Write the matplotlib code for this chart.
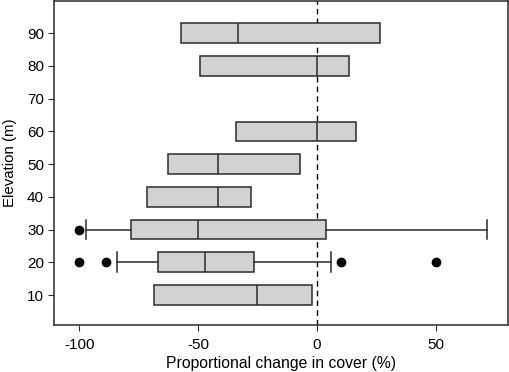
import matplotlib
matplotlib.use("Agg")
import matplotlib.pyplot as plt

plt.rcParams['font.family'] = ['Liberation Sans', 'DejaVu Sans']

# Elevation bands (m) and box statistics
elevation = [10, 20, 30, 40, 50, 60, 80, 90]
q1 = [-68.7, -66.8, -78.3, -71.5, -62.8, -34.0, -49.0, -57.4]
med = [-25.4, -47.1, -50.0, -41.5, -41.8, 0.0, 0.0, -33.4]
q3 = [-2.2, -26.6, 3.8, -27.8, -7.2, 16.5, 13.5, 26.5]
whislo = [-68.7, -84.0, -97.3, -71.5, -62.8, -34.0, -49.0, -57.4]
whishi = [-2.2, 6.0, 71.7, -27.8, -7.2, 16.5, 13.5, 26.5]
fliers = [[], [-100, -89, 10, 50], [-100], [], [], [], [], []]

stats = []
for i in range(len(elevation)):
    stats.append({
        'q1': q1[i], 'med': med[i], 'q3': q3[i],
        'whislo': whislo[i], 'whishi': whishi[i], 'fliers': fliers[i],
    })

fig = plt.figure(figsize=(5.09, 3.72), dpi=100)
ax = fig.add_axes([0.107, 0.126, 0.891, 0.871])

edge = '#2b2b2b'
has_whisk = [lo < a or hi > b for lo, a, hi, b in zip(whislo, q1, whishi, q3)]
bp = ax.bxp(stats, positions=elevation, widths=6, vert=False, patch_artist=True,
            showfliers=True, capwidths=[6 if h else 0 for h in has_whisk],
            boxprops=dict(facecolor='#d2d2d2', edgecolor=edge, linewidth=1.1),
            medianprops=dict(color=edge, linewidth=1.1),
            whiskerprops=dict(color=edge, linewidth=1.1),
            capprops=dict(color=edge, linewidth=1.1),
            flierprops=dict(marker='o', markerfacecolor='black', markeredgecolor='black',
                            markersize=6))

ax.axvline(0, color='black', linestyle=(0, (4, 3)), linewidth=1.0, zorder=0)

ax.set_xlim(-110.5, 80.5)
ax.set_ylim(0.8, 99.8)
ax.set_xticks([-100, -50, 0, 50])
ax.set_xticklabels(['-100', '-50', '0', '50'])
ax.set_yticks([10, 20, 30, 40, 50, 60, 70, 80, 90])
ax.set_yticklabels(['10', '20', '30', '40', '50', '60', '70', '80', '90'])
ax.tick_params(direction='out', length=4, labelsize=11, color=edge)
ax.tick_params(axis='x', pad=5.5)
for s in ax.spines.values():
    s.set_color(edge)
    s.set_linewidth(1.1)

ax.set_xlabel('Proportional change in cover (%)', fontsize=11.3, labelpad=2.5)
ax.set_ylabel('Elevation (m)', fontsize=10.8, labelpad=7)

fig.savefig('out.png', dpi=100)
